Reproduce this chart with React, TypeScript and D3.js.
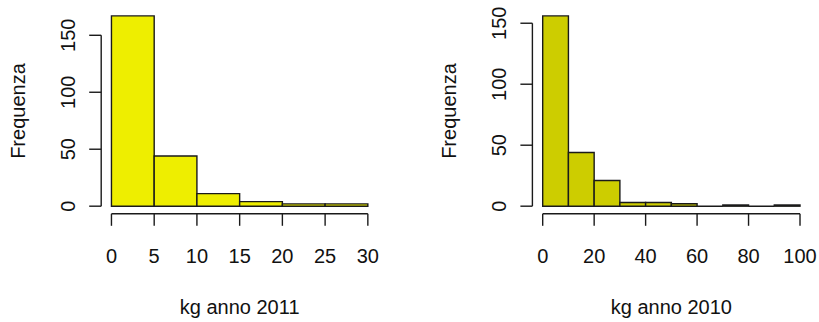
import React from "react";
import * as d3 from "d3";

// Histogram bin edges and counts, one set per year
const breaks2011 = [0, 5, 10, 15, 20, 25, 30];
const counts2011 = [167, 44, 11, 4, 2, 2];
const xTicks2011 = [0, 5, 10, 15, 20, 25, 30];
const yTicks2011 = [0, 50, 100, 150];

const breaks2010 = [0, 10, 20, 30, 40, 50, 60, 70, 80, 90, 100];
const counts2010 = [156, 44, 21, 3, 3, 2, 0, 1, 0, 1];
const xTicks2010 = [0, 20, 40, 60, 80, 100];
const yTicks2010 = [0, 50, 100, 150];

const FONT = "Arial, 'Liberation Sans', Helvetica, sans-serif";
const FS = 20;

type PanelProps = {
  breaks: number[];
  counts: number[];
  xTicks: number[];
  yTicks: number[];
  fill: string;
  xLabel: string;
  left: number;
  right: number;
  top: number;
  bottom: number;
};

function Histogram({ breaks, counts, xTicks, yTicks, fill, xLabel, left, right, top, bottom }: PanelProps) {
  const xmin = breaks[0];
  const xmax = breaks[breaks.length - 1];
  const xr = xmax - xmin;
  const ymax = d3.max(counts) as number;
  // R-style 4% padding on both axes
  const x = d3.scaleLinear().domain([xmin - 0.04 * xr, xmax + 0.04 * xr]).range([left, right]);
  const y = d3.scaleLinear().domain([-0.04 * ymax, 1.04 * ymax]).range([bottom, top]);
  const tick = 12;
  const stroke = "#1a1a1a";
  const sw = 1.4;
  const yAxisTop = y(yTicks[yTicks.length - 1]);
  const yAxisBottom = y(yTicks[0]);
  const midX = (x(xTicks[0]) + x(xTicks[xTicks.length - 1])) / 2;
  const midY = (top + bottom) / 2;

  // Each bar as a closed path so empty bins still show as a flat line
  const barPath = (i: number) => {
    const x0 = x(breaks[i]);
    const x1 = x(breaks[i + 1]);
    const yb = y(0);
    const yt = y(counts[i]);
    return `M${x0},${yb}H${x1}V${yt}H${x0}Z`;
  };

  return (
    <g>
      {counts.map((c, i) => (
        <path key={i} d={barPath(i)} fill={fill} stroke={stroke} strokeWidth={sw} />
      ))}
      {/* y axis */}
      <line x1={left} x2={left} y1={yAxisBottom} y2={yAxisTop} stroke={stroke} strokeWidth={sw} />
      {yTicks.map((t) => (
        <g key={t}>
          <line x1={left - tick} x2={left} y1={y(t)} y2={y(t)} stroke={stroke} strokeWidth={sw} />
          <text
            transform={`translate(${left - 26},${y(t)}) rotate(-90)`}
            textAnchor="middle"
            fontFamily={FONT}
            fontSize={FS}
            fill="#111"
          >
            {t}
          </text>
        </g>
      ))}
      {/* x axis */}
      <line x1={x(xTicks[0])} x2={x(xTicks[xTicks.length - 1])} y1={bottom} y2={bottom} stroke={stroke} strokeWidth={sw} />
      {xTicks.map((t) => (
        <g key={t}>
          <line x1={x(t)} x2={x(t)} y1={bottom} y2={bottom + tick} stroke={stroke} strokeWidth={sw} />
          <text x={x(t)} y={263.3} textAnchor="middle" fontFamily={FONT} fontSize={FS} fill="#111">
            {t}
          </text>
        </g>
      ))}
      <text x={midX} y={313.5} textAnchor="middle" fontFamily={FONT} fontSize={FS} fill="#111">
        {xLabel}
      </text>
      <text
        transform={`translate(${left - 76.4},${midY}) rotate(-90)`}
        textAnchor="middle"
        fontFamily={FONT}
        fontSize={FS}
        fill="#111"
      >
        Frequenza
      </text>
    </g>
  );
}

export default function App() {
  return (
    <svg
      width={819}
      height={322}
      style={{ position: "absolute", left: 0, top: 0, background: "#fff" }}
    >
      <rect x={0} y={0} width={819} height={322} fill="#fff" />
      <Histogram
        breaks={breaks2011}
        counts={counts2011}
        xTicks={xTicks2011}
        yTicks={yTicks2011}
        fill="#EEEE00"
        xLabel="kg anno 2011"
        left={101.2}
        right={378.1}
        top={8.3}
        bottom={213.8}
      />
      <Histogram
        breaks={breaks2010}
        counts={counts2010}
        xTicks={xTicks2010}
        yTicks={yTicks2010}
        fill="#CDCD00"
        xLabel="kg anno 2010"
        left={532.4}
        right={810.3}
        top={8.3}
        bottom={213.8}
      />
    </svg>
  );
}
